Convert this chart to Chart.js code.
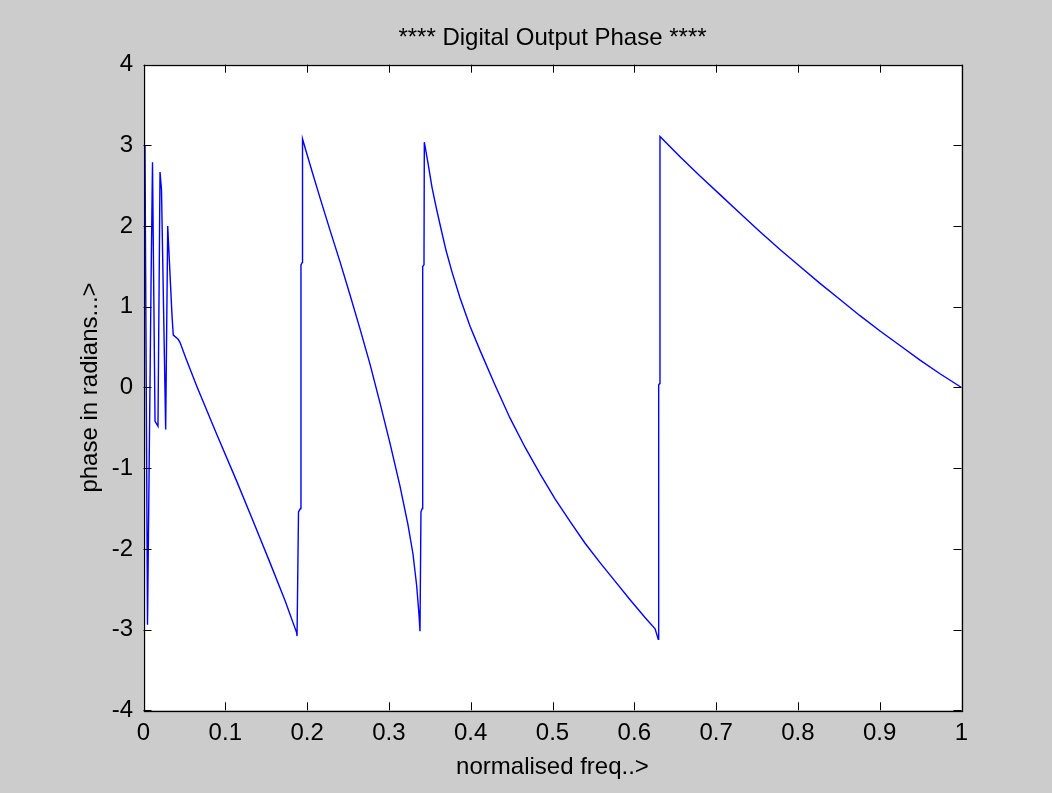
<!DOCTYPE html>
<html>
<head>
<meta charset="utf-8">
<script src="https://cdn.jsdelivr.net/npm/chart.js@4/dist/chart.umd.min.js"></script>
<style>
  html, body { margin: 0; padding: 0; background: #cccccc; }
  #wrap { width: 1052px; height: 793px; }
</style>
</head>
<body>
<div id="wrap"><canvas id="c" width="1052" height="793"></canvas></div>
<script>
// ---- data ----
const chartTitle = '**** Digital Output Phase ****';
const xAxisTitle = 'normalised freq..>';
const yAxisTitle = 'phase in radians...>';

const xTickLabels = ['0', '0.1', '0.2', '0.3', '0.4', '0.5', '0.6', '0.7', '0.8', '0.9', '1'];
const yTickLabels = ['-4', '-3', '-2', '-1', '0', '1', '2', '3', '4'];

const freq = [
  // oscillating start
  0.0018, 0.0049, 0.0092, 0.0110, 0.0141, 0.0177, 0.0202, 0.0220, 0.0271, 0.0296, 0.0348, 0.0364,
  // first descent
  0.0421, 0.0446, 0.0519, 0.0650, 0.0895, 0.1139, 0.1342, 0.1546, 0.1730, 0.1873, 0.1877,
  // jump
  0.1895, 0.1919, 0.1925, 0.1941, 0.1944,
  // second descent
  0.1987, 0.2060, 0.2158, 0.2280, 0.2402, 0.2524, 0.2646, 0.2769, 0.2891, 0.3013, 0.3135,
  0.3233, 0.3294, 0.3339, 0.3367, 0.3380,
  // jump
  0.3392, 0.3408, 0.3413, 0.3429, 0.3433,
  // third descent
  0.3478, 0.3527, 0.3576, 0.3625, 0.3698, 0.3772, 0.3870, 0.3992, 0.4114, 0.4297, 0.4481,
  0.4664, 0.4848, 0.5031, 0.5214, 0.5398, 0.5581, 0.5764, 0.5948, 0.6131, 0.6254, 0.6293,
  // jump
  0.6298, 0.6311, 0.6314,
  // fourth descent
  0.6559, 0.6803, 0.7048, 0.7292, 0.7537, 0.7781, 0.8026, 0.8270, 0.8515, 0.8759, 0.9004,
  0.9248, 0.9493, 0.9737, 1.0000
];
const phase = [
  3.00, -2.94, 1.27, 2.79, -0.42, -0.48, 2.67, 2.45, -0.52, 2.00, 0.90, 0.65,
  0.60, 0.56, 0.36, 0.02, -0.58, -1.16, -1.66, -2.17, -2.64, -3.04, -3.08,
  -1.54, -1.50, 1.52, 1.55, 3.08,
  2.93, 2.68, 2.35, 1.95, 1.56, 1.15, 0.73, 0.29, -0.19, -0.69, -1.22,
  -1.70, -2.06, -2.45, -2.80, -3.02,
  -1.54, -1.50, 1.50, 1.52, 3.04,
  2.78, 2.48, 2.24, 2.02, 1.70, 1.43, 1.11, 0.76, 0.46, 0.03, -0.38,
  -0.74, -1.07, -1.38, -1.66, -1.93, -2.17, -2.40, -2.63, -2.85, -2.99, -3.12,
  0.03, 0.05, 3.11,
  2.86, 2.62, 2.39, 2.16, 1.93, 1.71, 1.50, 1.29, 1.09, 0.89, 0.70,
  0.52, 0.34, 0.17, 0.00
];

// ---- layout / style ----
const FONT = "'Liberation Sans', Arial, Helvetica, sans-serif";
const FS = 24;
const PLOT_LEFT = 143.5, PLOT_RIGHT = 961.5, PLOT_TOP = 64.7, PLOT_BOTTOM = 710.3;
const W = 1052, H = 793;
const TICK_LEN = 8;

const points = freq.map((f, i) => ({ x: f, y: phase[i] }));

const framePlugin = {
  id: 'frame',
  beforeDatasetsDraw(chart) {
    const { ctx, chartArea: a } = chart;
    ctx.save();
    ctx.fillStyle = '#ffffff';
    ctx.fillRect(a.left, a.top, a.right - a.left, a.bottom - a.top);
    ctx.restore();
  },
  afterDatasetsDraw(chart) {
    const { ctx, chartArea: a, scales } = chart;
    ctx.save();
    ctx.strokeStyle = '#000000';
    ctx.lineWidth = 1;
    ctx.beginPath();
    scales.x.ticks.forEach(t => {
      const px = Math.round(scales.x.getPixelForValue(t.value)) + 0.5;
      ctx.moveTo(px, a.bottom); ctx.lineTo(px, a.bottom - TICK_LEN);
      ctx.moveTo(px, a.top); ctx.lineTo(px, a.top + TICK_LEN);
    });
    scales.y.ticks.forEach(t => {
      const py = Math.round(scales.y.getPixelForValue(t.value)) + 0.5;
      ctx.moveTo(a.left, py); ctx.lineTo(a.left + TICK_LEN, py);
      ctx.moveTo(a.right, py); ctx.lineTo(a.right - TICK_LEN, py);
    });
    ctx.stroke();
    ctx.lineWidth = 1.3;
    ctx.strokeRect(Math.round(a.left) + 0.5, Math.round(a.top) + 0.5,
                   Math.round(a.right - a.left), Math.round(a.bottom - a.top));
    ctx.restore();
  }
};

new Chart(document.getElementById('c'), {
  type: 'scatter',
  data: {
    datasets: [{
      data: points,
      showLine: true,
      borderColor: '#0000ff',
      borderWidth: 1.4,
      pointRadius: 0,
      pointHoverRadius: 0,
      tension: 0,
      fill: false
    }]
  },
  options: {
    responsive: false,
    animation: false,
    devicePixelRatio: 1,
    events: [],
    layout: { padding: { left: 0, right: W - PLOT_RIGHT, top: 0, bottom: 0 } },
    plugins: {
      legend: { display: false },
      tooltip: { enabled: false },
      title: {
        display: true,
        fullSize: false,
        text: chartTitle,
        color: '#000000',
        font: { family: FONT, size: FS, weight: 'normal', lineHeight: 1.2 },
        padding: { top: 24, bottom: PLOT_TOP - 24 - FS * 1.2 }
      }
    },
    scales: {
      x: {
        type: 'linear',
        min: 0, max: 1,
        offset: false,
        grid: { display: false, drawTicks: false },
        border: { display: false },
        ticks: {
          stepSize: 0.1,
          padding: 9,
          color: '#000000',
          maxRotation: 0,
          autoSkip: false,
          font: { family: FONT, size: FS, lineHeight: 1.2 },
          callback: (v, i) => xTickLabels[i]
        },
        title: {
          display: true,
          text: xAxisTitle,
          color: '#000000',
          font: { family: FONT, size: FS, lineHeight: 1.2 },
          padding: { top: 0, bottom: 11.6 }
        },
        afterFit: s => { s.height = H - PLOT_BOTTOM; }
      },
      y: {
        type: 'linear',
        min: -4, max: 4,
        offset: false,
        grid: { display: false, drawTicks: false },
        border: { display: false },
        ticks: {
          stepSize: 1,
          padding: 10.5,
          color: '#000000',
          autoSkip: false,
          font: { family: FONT, size: FS, lineHeight: 1.2 },
          callback: (v, i) => yTickLabels[i]
        },
        title: {
          display: true,
          text: yAxisTitle,
          color: '#000000',
          font: { family: FONT, size: FS, lineHeight: 1.2 },
          padding: { top: 75.6, bottom: 0 }
        },
        afterFit: s => { s.width = PLOT_LEFT; }
      }
    }
  },
  plugins: [framePlugin]
});
</script>
</body>
</html>
